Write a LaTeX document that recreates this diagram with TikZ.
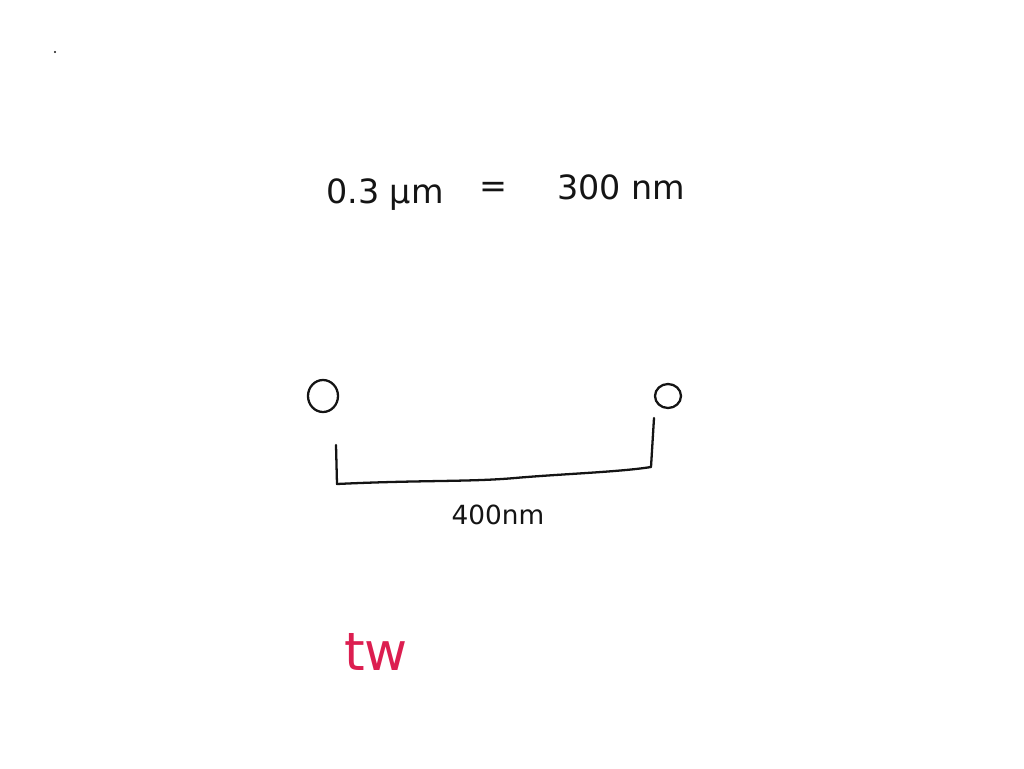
\documentclass[tikz,border=0pt]{standalone}
\usepackage{fontspec}
\setmainfont{DejaVu Sans}
\definecolor{ink}{RGB}{20,20,20}
\definecolor{redink}{RGB}{220,30,80}
\begin{document}
\begin{tikzpicture}[x=0.02cm,y=-0.02cm,
  hand/.style={text=ink,font=\fontsize{19}{23}\selectfont,inner sep=0pt},
  small/.style={text=ink,font=\fontsize{15}{18}\selectfont,inner sep=0pt},
  pen/.style={draw=ink,line width=1.3pt,line cap=round,line join=round}]
\useasboundingbox (0,0) rectangle (1024,768);
\fill[ink] (55,52) circle (1.1);
\node[hand] (a) at (385,195) {0.3 μm};
\node[hand] (eq) at (493,190) {=};
\node[hand] (b) at (621,187) {300 nm};
\draw[pen] (323,396) ellipse (15 and 16);
\draw[pen] (668,396) ellipse (13 and 12);
\coordinate (l1) at (336,445);
\coordinate (l2) at (337,484);
\coordinate (m) at (515,478);
\coordinate (r2) at (651,467);
\coordinate (r1) at (654,418);
\draw[pen] (l1) -- (l2) .. controls (420,480) and (470,482) .. (m) .. controls (560,474) and (620,472) .. (r2) -- (r1);
\node[small] (c) at (498,515) {400nm};
\node[text=redink,font=\fontsize{30}{34}\selectfont,inner sep=0pt] (tw) at (376,652) {tw};
\end{tikzpicture}
\end{document}
